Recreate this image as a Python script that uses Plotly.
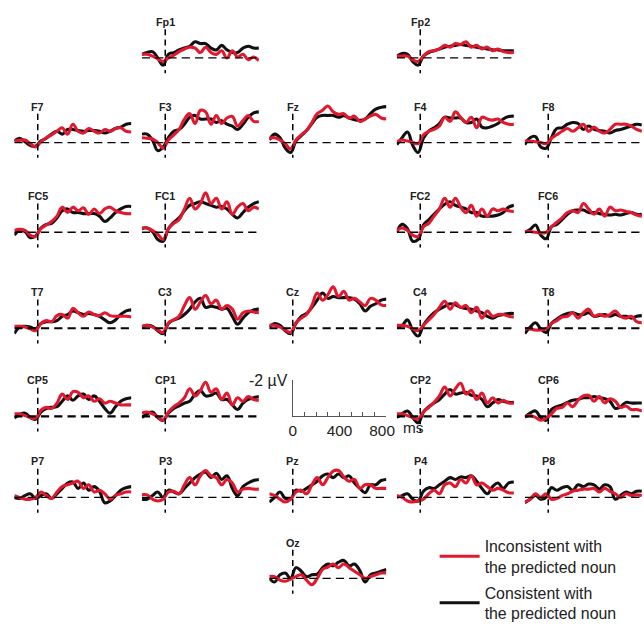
import plotly.graph_objects as go

# ---------------- data (µV; negative is plotted upward) ----------------
times_ms = [-200, -155, -109, -64, -18, 27, 73, 118, 164, 209, 255, 300,
            345, 391, 436, 482, 527, 573, 618, 664, 709, 755, 800]

fp1_con = [-0.2, -0.3, -0.35, 0, 0.4, -0.2, -0.3, -0.45, -0.55, -0.65, -0.9, -0.8, -0.8, -0.55, -0.45, -0.7, -0.45, -0.3, -0.3, -0.55, -0.65, -0.55, -0.55]
fp1_inc = [-0.2, -0.2, -0.1, 0.05, 0.2, 0, -0.15, -0.35, -0.5, -0.6, -0.55, -0.3, -0.6, -0.3, -0.2, -0.4, 0, -0.4, -0.05, -0.2, 0.1, -0.05, 0.15]
fp2_con = [-0.1, -0.25, -0.2, 0.2, 0.4, -0.1, -0.3, -0.4, -0.5, -0.6, -0.65, -0.7, -0.75, -0.7, -0.65, -0.6, -0.55, -0.5, -0.45, -0.45, -0.4, -0.4, -0.4]
fp2_inc = [-0.1, -0.1, -0.1, 0.1, 0.2, -0.1, -0.35, -0.4, -0.5, -0.7, -0.6, -0.8, -0.75, -0.9, -0.6, -0.7, -0.5, -0.6, -0.4, -0.5, -0.35, -0.3, -0.3]

f7_con = [-0.08, -0.24, -0.04, 0.16, 0.2, -0.08, -0.24, -0.47, -0.63, -0.47, -0.73, -0.73, -0.67, -0.63, -0.67, -0.67, -0.63, -0.53, -0.63, -0.78, -0.86, -1.02, -1.06]
f7_inc = [-0.08, -0.12, -0.14, 0.06, 0.25, -0.04, -0.27, -0.43, -0.63, -0.82, -0.47, -1.02, -0.63, -0.53, -0.78, -0.63, -0.53, -0.73, -0.63, -0.78, -0.82, -0.63, -0.59]
f3_con = [-0.47, -0.47, -0.14, 0.45, 0.25, -0.27, -0.63, -0.73, -1.02, -1.41, -1.51, -1.31, -1.31, -1.31, -1.12, -1.22, -1.02, -0.92, -0.73, -1.02, -1.41, -1.65, -1.71]
f3_inc = [-0.27, -0.24, -0.2, 0, 0.31, -0.14, -0.43, -0.73, -1.31, -1.61, -1.06, -1.8, -1.71, -1.02, -1.51, -1.06, -1.37, -1.45, -0.92, -1.22, -1.51, -1.18, -1.18]
fz_con = [-0.14, -0.47, -0.27, 0.31, 0.55, -0.08, -0.39, -0.67, -1.06, -1.41, -1.51, -1.51, -1.51, -1.41, -1.49, -1.37, -1.27, -1.24, -1.31, -1.61, -1.86, -1.96, -2.0]
fz_inc = [-0.24, -0.27, -0.14, 0.06, 0.35, -0.14, -0.43, -0.67, -1.12, -1.61, -1.8, -2.04, -1.71, -1.57, -1.61, -1.35, -1.47, -1.18, -1.31, -1.47, -1.57, -1.37, -1.31]
f4_con = [0.12, -0.27, -0.59, 0.16, 0.55, -0.24, -0.63, -0.82, -1.06, -1.41, -1.37, -1.37, -1.37, -1.12, -1.12, -1.31, -0.86, -0.82, -0.92, -1.06, -1.31, -1.45, -1.47]
f4_inc = [-0.04, -0.14, -0.08, 0, 0.06, -0.43, -0.63, -0.73, -0.92, -1.41, -1.18, -1.71, -1.41, -1.12, -1.41, -0.82, -1.41, -1.31, -1.25, -1.31, -1.12, -1.02, -1.02]
f8_con = [0.12, -0.27, -0.33, 0.25, 0.31, -0.27, -0.78, -0.82, -1.02, -1.12, -1.06, -0.73, -0.92, -0.73, -0.67, -0.63, -0.53, -0.67, -0.73, -0.82, -0.92, -1.02, -0.98]
f8_inc = [-0.08, -0.08, -0.04, 0, 0.06, -0.24, -0.43, -0.63, -0.78, -0.63, -0.82, -1.02, -0.63, -0.86, -0.63, -0.53, -0.73, -1.02, -1.02, -1.02, -0.92, -0.73, -0.63]

fc5_con = [0.16, -0.1, -0.04, 0.3, 0.2, -0.24, -0.44, -0.5, -0.8, -1.2, -1.3, -1.1, -1.1, -1.04, -1.04, -1.04, -0.9, -0.6, -0.8, -1.1, -1.3, -1.44, -1.44]
fc5_inc = [-0.1, -0.16, -0.1, 0.16, 0.24, -0.2, -0.4, -0.6, -0.9, -1.4, -1.1, -1.4, -1.2, -1.36, -1.0, -1.3, -1.04, -1.3, -1.4, -1.2, -1.1, -1.04, -1.04]
fc1_con = [-0.2, -0.24, -0.04, 0.4, 0.5, -0.2, -0.56, -0.8, -1.2, -1.5, -1.6, -1.7, -1.6, -1.5, -1.4, -1.44, -1.3, -1.0, -0.8, -1.1, -1.4, -1.6, -1.7]
fc1_inc = [-0.24, -0.24, -0.1, 0.1, 0.4, -0.2, -0.5, -0.7, -1.3, -1.9, -1.3, -1.6, -2.2, -1.6, -1.9, -1.3, -1.7, -1.0, -1.4, -1.6, -1.2, -1.4, -1.3]
fc2_con = [0, -0.44, -0.2, 0.5, 0.4, -0.4, -0.7, -1.0, -1.3, -1.56, -1.7, -1.5, -1.4, -1.3, -1.1, -1.1, -0.9, -0.9, -0.9, -0.96, -1.1, -1.4, -1.5]
fc2_inc = [-0.1, -0.24, -0.1, 0.16, 0.24, -0.3, -0.5, -0.9, -1.3, -1.9, -1.4, -1.9, -1.4, -1.1, -1.5, -0.9, -1.3, -0.9, -1.3, -1.2, -1.3, -1.2, -1.16]
fc6_con = [0, -0.16, -0.4, 0.16, 0.36, -0.3, -0.44, -0.7, -1.0, -1.2, -1.24, -1.24, -1.1, -1.1, -1.04, -1.0, -0.96, -1.0, -0.96, -1.04, -1.1, -1.0, -1.0]
fc6_inc = [-0.04, -0.04, 0, 0.04, 0, -0.3, -0.56, -0.8, -1.1, -1.2, -1.1, -1.6, -1.3, -1.0, -1.3, -0.9, -1.4, -1.2, -1.24, -1.16, -1.1, -0.96, -0.9]

t7_con = [0.3, -0.06, -0.1, -0.06, 0.04, -0.26, -0.36, -0.36, -0.42, -0.66, -0.76, -0.96, -0.86, -0.76, -0.82, -0.76, -0.66, -0.46, -0.3, -0.46, -0.76, -0.96, -1.02]
t7_inc = [-0.1, -0.1, -0.06, 0.04, 0.14, -0.26, -0.42, -0.36, -0.7, -0.76, -0.56, -1.1, -0.86, -0.66, -0.9, -0.76, -0.7, -0.86, -0.7, -0.66, -0.66, -0.66, -0.62]
c3_con = [-0.06, -0.16, -0.1, 0.14, 0.3, -0.26, -0.46, -0.56, -0.76, -1.06, -1.46, -1.66, -1.16, -1.22, -1.16, -1.06, -1.1, -0.66, -0.22, -0.56, -0.86, -1.02, -1.06]
c3_inc = [-0.1, -0.16, -0.06, 0.1, 0.24, -0.3, -0.46, -0.66, -1.26, -1.7, -1.06, -1.46, -1.82, -1.36, -1.56, -1.06, -1.26, -1.06, -0.5, -0.86, -0.96, -0.9, -0.86]
cz_con = [-0.06, -0.26, -0.16, 0.14, 0.3, -0.26, -0.66, -0.82, -1.16, -1.56, -1.96, -1.66, -1.76, -1.7, -1.7, -1.7, -1.62, -1.36, -0.96, -1.22, -1.36, -1.56, -1.62]
cz_inc = [-0.16, -0.16, -0.06, 0.1, 0.24, -0.3, -0.56, -0.76, -1.26, -1.96, -1.56, -1.86, -2.3, -1.76, -2.06, -1.56, -1.66, -1.46, -1.26, -1.66, -1.56, -1.3, -1.26]
c4_con = [-0.06, -0.16, -0.46, 0.14, 0.44, -0.16, -0.56, -0.86, -1.06, -1.22, -1.36, -1.3, -1.16, -1.1, -1.06, -0.96, -0.86, -0.66, -0.56, -0.7, -0.76, -0.82, -0.82]
c4_inc = [-0.16, -0.16, -0.1, 0.04, 0.14, -0.16, -0.46, -0.76, -1.16, -1.5, -1.06, -1.42, -1.16, -1.26, -0.86, -1.16, -0.56, -0.96, -0.66, -0.76, -0.76, -0.66, -0.62]
t8_con = [0.3, -0.06, -0.3, 0.04, 0.24, -0.26, -0.5, -0.7, -0.82, -0.86, -0.76, -0.76, -0.86, -0.66, -0.7, -0.76, -0.66, -0.76, -0.66, -0.66, -0.56, -0.66, -0.7]
t8_inc = [0.04, 0.04, 0.1, 0.1, 0.04, -0.26, -0.42, -0.62, -0.66, -0.86, -0.56, -0.86, -1.06, -0.66, -0.76, -0.66, -0.76, -0.96, -0.66, -0.56, -0.66, -0.36, -0.3]

cp5_con = [0.1, -0.1, -0.18, 0.06, 0.16, -0.24, -0.44, -0.5, -0.54, -0.84, -1.14, -0.9, -1.14, -1.24, -0.94, -1.14, -0.84, -0.44, -0.18, -0.54, -0.84, -0.98, -1.04]
cp5_inc = [-0.14, -0.14, -0.04, 0.06, 0.1, -0.34, -0.5, -0.44, -0.74, -1.24, -0.94, -1.38, -1.34, -1.04, -1.14, -0.84, -0.98, -0.74, -0.84, -0.74, -0.64, -0.64, -0.64]
cp1_con = [0.06, -0.14, -0.24, 0.06, 0.22, -0.18, -0.44, -0.58, -0.74, -0.84, -1.24, -1.44, -1.14, -1.18, -1.3, -0.94, -0.94, -0.64, -0.38, -0.74, -0.94, -1.04, -1.1]
cp1_inc = [-0.18, -0.24, -0.14, 0.02, 0.22, -0.24, -0.54, -0.74, -1.04, -1.54, -1.14, -1.44, -1.9, -1.34, -1.54, -0.94, -1.3, -0.64, -1.04, -0.84, -1.1, -0.94, -0.9]
cp2_con = [0.06, -0.14, -0.3, 0.06, 0.36, -0.24, -0.54, -0.74, -0.94, -1.24, -1.5, -1.24, -1.3, -1.34, -1.18, -1.14, -0.94, -0.54, -0.74, -0.94, -0.84, -0.78, -0.78]
cp2_inc = [-0.14, -0.14, -0.04, 0.06, 0.16, -0.24, -0.5, -0.78, -1.14, -1.64, -1.14, -1.54, -1.84, -1.24, -1.44, -0.94, -1.3, -0.74, -1.04, -0.74, -0.9, -0.74, -0.74]
cp6_con = [0.06, -0.18, -0.3, 0.06, 0.22, -0.38, -0.54, -0.64, -0.78, -0.9, -0.94, -1.04, -1.04, -1.1, -1.04, -0.98, -0.84, -0.44, -0.54, -0.78, -0.74, -0.74, -0.74]
cp6_inc = [0.02, -0.04, 0.06, 0.22, 0.1, -0.14, -0.44, -0.5, -0.74, -0.54, -0.9, -1.14, -1.18, -0.84, -1.1, -0.74, -0.98, -0.84, -0.5, -0.58, -0.38, -0.38, -0.3]

p7_con = [0, 0.06, -0.1, -0.2, 0.06, -0.1, -0.2, 0.06, -0.2, -0.5, -0.8, -0.86, -0.5, -0.8, -0.4, -0.6, -0.34, 0.3, 0.2, -0.1, -0.4, -0.54, -0.6]
p7_inc = [-0.1, 0, 0.1, 0.1, 0, -0.3, -0.1, 0.06, -0.3, -0.6, -0.7, -0.8, -0.9, -0.5, -0.7, -0.3, -0.4, -0.2, 0.1, -0.1, -0.2, -0.3, -0.3]
p3_con = [0.1, 0.1, -0.1, -0.3, 0, -0.4, -0.3, -0.2, -0.5, -0.8, -1.1, -1.3, -1.4, -1.1, -1.34, -1.0, -1.2, -0.5, -0.1, -0.6, -0.8, -0.94, -1.0]
p3_inc = [-0.14, -0.14, 0.1, 0.2, 0.1, -0.3, -0.34, -0.2, -0.7, -1.1, -0.7, -1.2, -1.5, -1.2, -1.1, -0.7, -1.0, -0.8, -0.3, -0.46, -0.5, -0.46, -0.46]
pz_con = [0.26, 0, -0.3, 0.06, 0.1, -0.4, -0.34, -0.5, -0.7, -0.9, -1.2, -1.3, -1.1, -1.3, -1.1, -1.2, -0.8, -0.5, -0.26, -0.7, -0.7, -0.94, -1.0]
pz_inc = [-0.2, -0.1, 0.1, 0.26, 0.1, -0.3, -0.4, -0.2, -0.7, -1.1, -0.7, -1.1, -1.46, -1.5, -1.14, -0.9, -1.0, -0.5, -0.7, -0.7, -0.5, -0.5, -0.5]
p4_con = [0, -0.1, -0.2, 0.1, 0.2, -0.34, -0.54, -0.5, -0.7, -0.9, -1.1, -1.0, -1.14, -1.1, -1.2, -0.9, -0.5, -0.2, -0.6, -0.8, -0.5, -0.8, -0.86]
p4_inc = [-0.1, 0, 0.2, 0.26, 0.2, 0.1, -0.2, -0.4, -0.2, -0.7, -0.8, -0.6, -1.0, -0.8, -1.2, -0.7, -0.8, -0.6, -0.4, -0.5, -0.4, -0.26, -0.26]
p8_con = [0.3, 0.1, -0.1, 0.1, 0, -0.54, -0.4, -0.54, -0.6, -0.4, -0.7, -0.6, -0.74, -0.7, -0.46, -0.7, -0.6, 0.1, -0.1, -0.3, -0.2, -0.34, -0.34]
p8_inc = [0.26, 0.1, -0.2, 0, -0.2, 0.1, 0.06, -0.1, -0.2, -0.34, -0.4, -0.46, -0.46, -0.5, -0.3, -0.5, -0.34, -0.2, 0, -0.2, -0.1, -0.14, -0.1]

oz_con = [0, 0.2, -0.2, -0.3, 0, -0.6, -0.4, -0.1, -0.2, -0.24, -0.6, -0.8, -0.7, -0.9, -1.0, -0.7, -0.8, -0.43, 0.2, -0.2, -0.3, -0.4, -0.5]
oz_inc = [-0.1, -0.1, 0.1, 0.16, 0.04, -0.1, -0.2, 0.1, 0.35, 0, -0.5, -0.63, -0.8, -0.6, -0.8, -0.6, -0.4, -0.2, 0, -0.1, -0.2, -0.3, -0.3]

scale_ticks_ms = [0, 100, 200, 300, 400, 500, 600, 700, 800]
scale_tick_labels = ["0", "", "", "", "400", "", "", "", "800\u00a0\u00a0"]

label_inc = "Inconsistent with<br>the predicted noun"
label_con = "Consistent with<br>the predicted noun"

# ---------------- layout geometry (reference pixels) ----------------
W, H = 644, 627          # reference picture size
S = 1.025                # page-to-picture scale of the viewer
PX_PER_UV = 17.5
PANEL_W = 118.0
Y_TOP, Y_BOT = -2.6, 1.0
COL_X0 = [10.4, 138.9, 267.4, 395.9, 524.9]
ROW_BASE = [56.5, 139, 226.5, 320, 406, 485, 564]
ROW_DASH_W = [1.2, 1.3, 1.5, 2.0, 2.0, 1.4, 1.4]
RED, BLACK = "#e2192e", "#111111"
FONT = "Arial, Liberation Sans, sans-serif"

def px(v):
    return v * S

panels = [
    ("Fp1", fp1_con, fp1_inc, 0, 1), ("Fp2", fp2_con, fp2_inc, 0, 3),
    ("F7", f7_con, f7_inc, 1, 0), ("F3", f3_con, f3_inc, 1, 1), ("Fz", fz_con, fz_inc, 1, 2),
    ("F4", f4_con, f4_inc, 1, 3), ("F8", f8_con, f8_inc, 1, 4),
    ("FC5", fc5_con, fc5_inc, 2, 0), ("FC1", fc1_con, fc1_inc, 2, 1),
    ("FC2", fc2_con, fc2_inc, 2, 3), ("FC6", fc6_con, fc6_inc, 2, 4),
    ("T7", t7_con, t7_inc, 3, 0), ("C3", c3_con, c3_inc, 3, 1), ("Cz", cz_con, cz_inc, 3, 2),
    ("C4", c4_con, c4_inc, 3, 3), ("T8", t8_con, t8_inc, 3, 4),
    ("CP5", cp5_con, cp5_inc, 4, 0), ("CP1", cp1_con, cp1_inc, 4, 1),
    ("CP2", cp2_con, cp2_inc, 4, 3), ("CP6", cp6_con, cp6_inc, 4, 4),
    ("P7", p7_con, p7_inc, 5, 0), ("P3", p3_con, p3_inc, 5, 1), ("Pz", pz_con, pz_inc, 5, 2),
    ("P4", p4_con, p4_inc, 5, 3), ("P8", p8_con, p8_inc, 5, 4),
    ("Oz", oz_con, oz_inc, 6, 2),
]

fig = go.Figure()
layout = {}
shapes = []
annotations = []

for i, (name, con, inc, row, col) in enumerate(panels, start=1):
    xa = "xaxis" if i == 1 else f"xaxis{i}"
    ya = "yaxis" if i == 1 else f"yaxis{i}"
    xr = "x" if i == 1 else f"x{i}"
    yr = "y" if i == 1 else f"y{i}"
    x0 = COL_X0[col]
    base = ROW_BASE[row]
    top_px = base + Y_TOP * PX_PER_UV
    bot_px = base + Y_BOT * PX_PER_UV
    layout[xa] = dict(domain=[x0 / W, (x0 + PANEL_W) / W], range=[times_ms[0], times_ms[-1]],
                      visible=False, anchor=yr, fixedrange=True)
    layout[ya] = dict(domain=[1 - bot_px / H, 1 - top_px / H], range=[Y_BOT, Y_TOP],
                      visible=False, anchor=xr, fixedrange=True)
    shapes.append(dict(type="line", xref=xr, yref=yr, x0=times_ms[0], x1=times_ms[-1], y0=0, y1=0,
                       line=dict(color="black", width=px(ROW_DASH_W[row]),
                                 dash=f"{px(8):.1f}px,{px(5):.1f}px")))
    shapes.append(dict(type="line", xref=xr, yref=yr, x0=0, x1=0, y0=-1.6, y1=0.85,
                       line=dict(color="black", width=px(1.5),
                                 dash=f"{px(6):.1f}px,{px(4):.1f}px")))
    fig.add_trace(go.Scatter(x=times_ms, y=con, xaxis=xr, yaxis=yr, mode="lines",
                             line=dict(color=BLACK, width=px(3), shape="spline", smoothing=1.2),
                             name=label_con, legendgroup="con", showlegend=(i == 1),
                             legendrank=2, hoverinfo="skip"))
    fig.add_trace(go.Scatter(x=times_ms, y=inc, xaxis=xr, yaxis=yr, mode="lines",
                             line=dict(color=RED, width=px(3), shape="spline", smoothing=1.2),
                             name=label_inc, legendgroup="inc", showlegend=(i == 1),
                             legendrank=1, hoverinfo="skip"))
    annotations.append(dict(text=f"<b>{name}</b>", xref=xr, yref=yr, x=0, y=-2.0,
                            showarrow=False, xanchor="center", yanchor="middle",
                            font=dict(family=FONT, size=px(10.5), color="#222")))

# ---------------- scale bar as a real axis ----------------
k = len(panels) + 1
sx0 = 291.0
sx1 = sx0 + 800 * PANEL_W / (times_ms[-1] - times_ms[0])
sb_base = ROW_BASE[4]
sb_top = sb_base - 2 * PX_PER_UV
layout[f"xaxis{k}"] = dict(domain=[sx0 / W, sx1 / W], range=[0, 800], anchor=f"y{k}",
                           showline=True, linecolor="#555", linewidth=px(1),
                           ticks="inside", ticklen=px(4), tickcolor="#555", tickwidth=px(1),
                           tickvals=scale_ticks_ms, ticktext=scale_tick_labels,
                           tickfont=dict(family=FONT, size=px(15), color="#222"),
                           showgrid=False, zeroline=False, fixedrange=True)
layout[f"yaxis{k}"] = dict(domain=[1 - sb_base / H, 1 - sb_top / H], range=[0, -2], anchor=f"x{k}",
                           showline=True, linecolor="#555", linewidth=px(1), ticks="",
                           showticklabels=False, showgrid=False, zeroline=False, fixedrange=True)
fig.add_trace(go.Scatter(x=[0], y=[0], xaxis=f"x{k}", yaxis=f"y{k}", mode="markers",
                         marker=dict(opacity=0), showlegend=False, hoverinfo="skip"))
annotations.append(dict(text="-2 µV", xref=f"x{k}", yref=f"y{k}", x=0, y=-2,
                        xanchor="right", yanchor="middle", xshift=px(-3), showarrow=False,
                        font=dict(family=FONT, size=px(15.5), color="#222")))
annotations.append(dict(text="ms", xref=f"x{k}", yref=f"y{k}", x=800, y=0,
                        xanchor="left", yanchor="top", xshift=px(14), yshift=px(-1), showarrow=False,
                        font=dict(family=FONT, size=px(15), color="#222")))

fig.update_layout(
    width=round(W * S), height=round(H * S), margin=dict(l=0, r=0, t=0, b=0),
    paper_bgcolor="white", plot_bgcolor="white",
    shapes=shapes, annotations=annotations,
    showlegend=True,
    legend=dict(x=434 / W, y=1 - 516 / H, xanchor="left", yanchor="top",
                font=dict(family=FONT, size=px(15.5), color="#222"),
                bgcolor="rgba(0,0,0,0)", tracegroupgap=px(2), itemwidth=40),
    **layout,
)

fig.write_html("out.html", config={"displayModeBar": False},
               post_script="document.body.style.margin='0';")
